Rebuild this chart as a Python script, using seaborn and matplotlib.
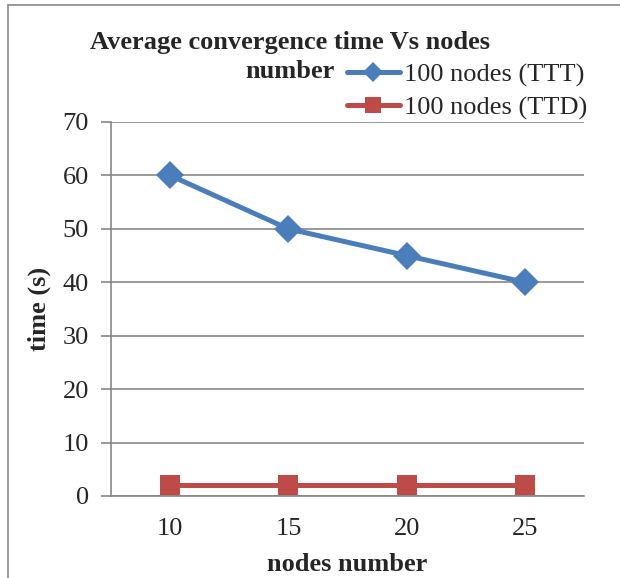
import pandas as pd
import matplotlib.pyplot as plt
import seaborn as sns
from matplotlib.patches import Rectangle

# dati
nodi = ['10', '15', '20', '25']
ttt = [60, 50, 45, 40]
ttd = [2, 2, 2, 2]
serie = ['100 nodes (TTT)', '100 nodes (TTD)']

df = pd.DataFrame({
    'nodi': nodi * 2,
    'tempo': ttt + ttd,
    'serie': [serie[0]] * 4 + [serie[1]] * 4,
})

sns.set_style('white')
plt.rcParams['font.family'] = ['Liberation Serif', 'DejaVu Serif']

fig = plt.figure(figsize=(6.2, 5.78), dpi=100)
ax = fig.add_axes([111 / 620, 1 - 496 / 578, 473 / 620, 374 / 578])

colori = ['#4a7ebb', '#be4b48']
sns.lineplot(data=df[df['serie'] == serie[0]], x='nodi', y='tempo',
             color=colori[0], marker='D', linewidth=3.6, markersize=14,
             markeredgewidth=0, label=serie[0], ax=ax)
sns.lineplot(data=df[df['serie'] == serie[1]], x='nodi', y='tempo',
             color=colori[1], marker='s', linewidth=3.6, markersize=15,
             markeredgewidth=0, label=serie[1], ax=ax)

ax.set_xlim(-0.5, 3.5)
ax.set_ylim(0, 70)
ax.set_yticks(range(0, 71, 10))
ax.grid(axis='y', color='#878787', linewidth=1.2)
ax.set_axisbelow(True)
for s in ['top', 'right']:
    ax.spines[s].set_visible(False)
ax.spines['left'].set_color('#878787')
ax.spines['bottom'].set_color('#878787')
ax.spines['left'].set_linewidth(1.2)
ax.spines['bottom'].set_linewidth(1.2)
ax.tick_params(axis='y', left=True, length=7, width=1.2, color='#878787',
               labelsize=19, pad=9)
ax.tick_params(axis='x', bottom=False, labelsize=19, pad=12)
ax.set_xlabel('nodes number', fontsize=19, fontweight='bold', labelpad=10)
ax.set_ylabel('time (s)', fontsize=19, fontweight='bold', labelpad=8)

# legenda con simboli piu piccoli
h, l = ax.get_legend_handles_labels()
ax.get_legend().remove()
fig.legend(h, l, loc='upper left', bbox_to_anchor=(347 / 620, 1 - 63 / 578),
           frameon=False, fontsize=19, handlelength=2.0, handletextpad=0.15,
           labelspacing=0.34, borderaxespad=0, borderpad=0, markerscale=0.75)

# titolo su due righe
fig.text(290 / 620, 1 - 42 / 578, 'Average convergence time Vs nodes',
         ha='center', va='center', fontsize=19, fontweight='bold')
fig.text(290 / 620, 1 - 72 / 578, 'number',
         ha='center', va='center', fontsize=19, fontweight='bold')

# cornice
fig.patches.append(Rectangle((8 / 620, -0.1), 1.0, 1.1 - 5 / 578,
                             transform=fig.transFigure, fill=False,
                             edgecolor='#878787', linewidth=1.2))

fig.savefig('out.png', dpi=100)
